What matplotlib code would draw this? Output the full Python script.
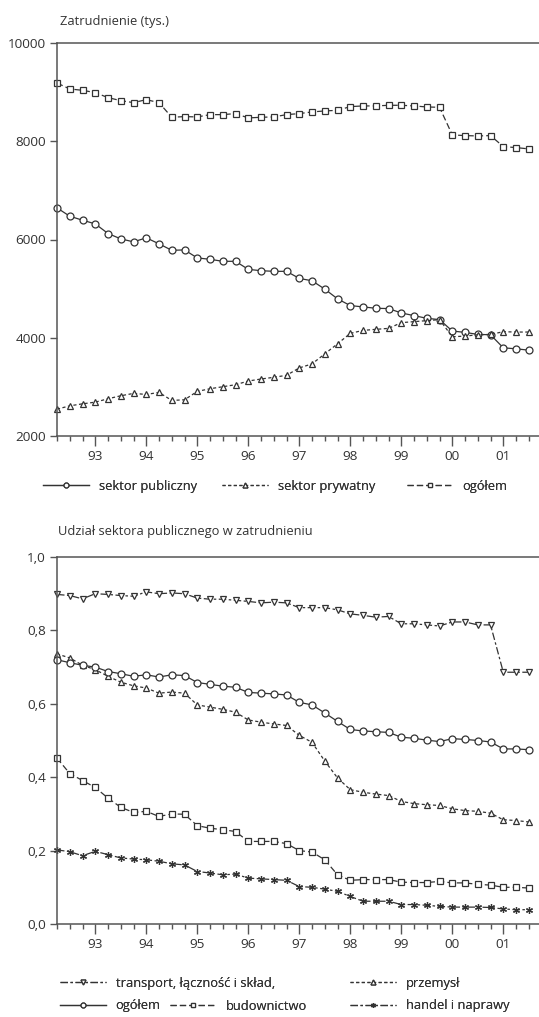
import matplotlib.pyplot as plt
from matplotlib.ticker import FixedLocator, FuncFormatter

plt.rcParams['font.family'] = ['Open Sans', 'DejaVu Sans']
INK = '#333333'

# quarters from 1992 Q2 to 2001 Q3
quarters = list(range(38))
year_ticks = [3, 7, 11, 15, 19, 23, 27, 31, 35]
year_labels = ['93', '94', '95', '96', '97', '98', '99', '00', '01']

# --- Zatrudnienie (tys.) ---
publiczny = [6644, 6474, 6393, 6318, 6122, 6013, 5952, 6034, 5912, 5780, 5788,
             5625, 5597, 5556, 5556, 5392, 5365, 5352, 5352, 5208, 5160, 4990,
             4792, 4655, 4628, 4600, 4594, 4505, 4450, 4396, 4369, 4137, 4109,
             4068, 4061, 3795, 3775, 3747]
prywatny = [2546, 2614, 2655, 2689, 2758, 2819, 2867, 2846, 2887, 2724, 2737,
            2908, 2962, 3003, 3044, 3119, 3160, 3195, 3235, 3386, 3468, 3672,
            3877, 4089, 4150, 4171, 4191, 4307, 4328, 4348, 4369, 4020, 4034,
            4061, 4068, 4123, 4116, 4116]
ogolem_tys = [9186, 9064, 9037, 8990, 8888, 8827, 8786, 8847, 8786, 8488, 8502,
              8495, 8542, 8542, 8563, 8475, 8488, 8495, 8542, 8563, 8597, 8617,
              8630, 8705, 8719, 8719, 8732, 8732, 8719, 8698, 8691, 8129, 8115,
              8108, 8115, 7891, 7871, 7844]

# --- Udział sektora publicznego w zatrudnieniu ---
transport = [0.898, 0.895, 0.886, 0.900, 0.898, 0.895, 0.893, 0.905, 0.900, 0.902,
             0.900, 0.888, 0.885, 0.885, 0.882, 0.879, 0.875, 0.877, 0.875, 0.862,
             0.862, 0.862, 0.856, 0.845, 0.841, 0.836, 0.838, 0.818, 0.818, 0.815,
             0.812, 0.823, 0.823, 0.815, 0.815, 0.686, 0.686, 0.686]
przemysl = [0.736, 0.725, 0.705, 0.693, 0.675, 0.659, 0.649, 0.643, 0.629, 0.632,
            0.629, 0.597, 0.591, 0.585, 0.577, 0.556, 0.550, 0.545, 0.541, 0.514,
            0.495, 0.444, 0.398, 0.366, 0.359, 0.354, 0.350, 0.334, 0.328, 0.325,
            0.323, 0.314, 0.309, 0.307, 0.302, 0.284, 0.282, 0.278]
ogolem_udz = [0.720, 0.712, 0.705, 0.700, 0.688, 0.682, 0.675, 0.679, 0.673, 0.679,
              0.677, 0.658, 0.653, 0.648, 0.645, 0.631, 0.629, 0.627, 0.624, 0.604,
              0.597, 0.575, 0.552, 0.530, 0.526, 0.524, 0.522, 0.509, 0.506, 0.501,
              0.497, 0.505, 0.503, 0.500, 0.496, 0.477, 0.477, 0.475]
budownictwo = [0.452, 0.410, 0.391, 0.372, 0.343, 0.318, 0.304, 0.307, 0.293, 0.300,
               0.299, 0.268, 0.261, 0.257, 0.252, 0.225, 0.225, 0.225, 0.219, 0.200,
               0.196, 0.175, 0.134, 0.119, 0.121, 0.121, 0.121, 0.114, 0.113, 0.113,
               0.116, 0.112, 0.112, 0.108, 0.106, 0.100, 0.100, 0.098]
handel = [0.202, 0.197, 0.186, 0.198, 0.189, 0.180, 0.177, 0.175, 0.171, 0.164,
          0.161, 0.143, 0.139, 0.134, 0.136, 0.125, 0.123, 0.121, 0.119, 0.102,
          0.100, 0.095, 0.089, 0.075, 0.062, 0.062, 0.062, 0.053, 0.053, 0.051,
          0.048, 0.046, 0.046, 0.046, 0.045, 0.041, 0.039, 0.039]

W, H = 539, 1017
FS = 9.3
fig = plt.figure(figsize=(W / 100, H / 100), dpi=100)


def frac(x0, y_top, x1, y_bot):
    return [x0 / W, 1 - y_bot / H, (x1 - x0) / W, (y_bot - y_top) / H]


def style_axes(ax):
    ax.spines['right'].set_visible(False)
    for s in ('left', 'top', 'bottom'):
        ax.spines[s].set_color('#555555')
        ax.spines[s].set_linewidth(1.1)
    ax.set_xlim(0, 37.8)
    ax.xaxis.set_major_locator(FixedLocator(year_ticks))
    ax.xaxis.set_minor_locator(FixedLocator(quarters))
    ax.set_xticklabels(year_labels)
    ax.tick_params(axis='x', which='major', length=7, width=1, color='#555555',
                   labelsize=FS + 0.4, labelcolor=INK, pad=3)
    ax.tick_params(axis='x', which='minor', length=3.5, width=1, color='#555555')
    ax.tick_params(axis='y', length=5, width=1, color='#555555',
                   labelsize=FS + 0.4, labelcolor=INK, pad=3)


def add_leg(handle, x_px, y_px):
    leg = fig.legend(handles=[handle], loc='center left', frameon=False,
                     handlelength=3.55, handletextpad=0.75, fontsize=FS,
                     markerscale=0.7, labelcolor=INK, borderaxespad=0, borderpad=0,
                     bbox_to_anchor=(x_px / W, 1 - y_px / H))
    fig.add_artist(leg)


line_kw = dict(color=INK, linewidth=0.9, markersize=5, markeredgewidth=0.9,
               markerfacecolor='white', markeredgecolor=INK, clip_on=False)

# top panel
ax1 = fig.add_axes(frac(57, 43, 539, 436))
style_axes(ax1)
h_pub, = ax1.plot(quarters, publiczny, linestyle='-', marker='o',
                  label='sektor publiczny', **line_kw)
h_pry, = ax1.plot(quarters, prywatny, linestyle=(0, (2.5, 2)), marker='^',
                  label='sektor prywatny', **line_kw)
h_ogt, = ax1.plot(quarters, ogolem_tys, linestyle=(0, (5, 2.5)), marker='s',
                  label='ogółem', **line_kw)
ax1.set_ylim(2000, 10000)
ax1.set_yticks([2000, 4000, 6000, 8000, 10000])
fig.text(60 / W, 1 - 22 / H, 'Zatrudnienie (tys.)', fontsize=FS, color=INK, va='center')

add_leg(h_pub, 43, 486)
add_leg(h_pry, 222, 486)
add_leg(h_ogt, 407, 486)

# bottom panel
ax2 = fig.add_axes(frac(57, 557, 539, 924))
style_axes(ax2)
h_tr, = ax2.plot(quarters, transport, linestyle=(0, (6, 2, 2, 2)), marker='v',
                 label='transport, łączność i skład,', **line_kw)
h_pr, = ax2.plot(quarters, przemysl, linestyle=(0, (2.5, 2)), marker='^',
                 label='przemysł', **line_kw)
h_og, = ax2.plot(quarters, ogolem_udz, linestyle='-', marker='o', label='ogółem', **line_kw)
h_bu, = ax2.plot(quarters, budownictwo, linestyle=(0, (5, 2.5)), marker='s',
                 label='budownictwo', **line_kw)
h_ha, = ax2.plot(quarters, handel, linestyle=(0, (6, 2, 2, 2)), marker=(6, 2, 0),
                 label='handel i naprawy', **line_kw)
ax2.set_ylim(0, 1.0)
ax2.set_yticks([0, 0.2, 0.4, 0.6, 0.8, 1.0])
ax2.yaxis.set_major_formatter(FuncFormatter(lambda v, p: f'{v:.1f}'.replace('.', ',')))
fig.text(58 / W, 1 - 532 / H, 'Udział sektora publicznego w zatrudnieniu',
         fontsize=FS, color=INK, va='center')

add_leg(h_tr, 60, 983)
add_leg(h_pr, 350, 983)
add_leg(h_og, 60, 1006)
add_leg(h_bu, 170, 1006)
add_leg(h_ha, 350, 1006)

fig.savefig('out.png', dpi=100)
